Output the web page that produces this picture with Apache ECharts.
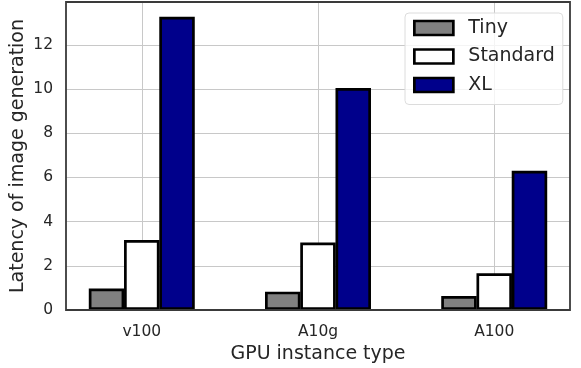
<!DOCTYPE html>
<html>
<head>
<meta charset="utf-8">
<script src="https://cdn.jsdelivr.net/npm/echarts@6/dist/echarts.min.js"></script>
<style>html,body{margin:0;padding:0;background:#fff}#c{width:581px;height:368px}</style>
</head>
<body>
<div id="c"></div>
<script>
const categories = ['v100', 'A10g', 'A100'];
const seriesNames = ['Tiny', 'Standard', 'XL'];
const tinyValues = [0.97, 0.83, 0.63];
const standardValues = [3.17, 3.05, 1.66];
const xlValues = [13.27, 10.05, 6.3];
const yTicks = [0, 2, 4, 6, 8, 10, 12];

const colors = ['#808080', '#ffffff', '#00008b'];
const offsets = [-0.2, 0, 0.2];
const allValues = [tinyValues, standardValues, xlValues];
const font = 'DejaVu Sans';

const series = seriesNames.map((name, s) => ({
  name: name,
  type: 'bar',
  barWidth: 35.5,
  barGap: '-100%',
  data: allValues[s].map((v, i) => [i + offsets[s], v]),
  itemStyle: { color: colors[s], borderColor: '#000', borderWidth: 2.7 },
  emphasis: { disabled: true },
  z: 3
}));

const chart = echarts.init(document.getElementById('c'), null, { renderer: 'canvas' });
chart.setOption({
  animation: false,
  grid: { left: 66, right: 11, top: 2, bottom: 58, outerBoundsMode: 'none', containLabel: false,
          show: true, borderColor: '#3a3a3a', borderWidth: 1.8, backgroundColor: 'transparent', z: 10 },
  legend: {
    orient: 'vertical',
    left: 405, top: 13,
    padding: [5.5, 8, 10, 8],
    itemWidth: 39, itemHeight: 14, itemGap: 9.5,
    icon: 'rect',
    borderColor: '#dcdcdc', borderWidth: 1, borderRadius: 4,
    backgroundColor: 'rgba(255,255,255,0.8)',
    textStyle: { fontFamily: font, fontSize: 19, color: '#262626', padding: [0, 0, 0, 10] },
    itemStyle: { borderColor: '#000', borderWidth: 2.7 },
    data: seriesNames
  },
  xAxis: {
    type: 'value',
    min: -0.43, max: 2.43,
    name: 'GPU instance type',
    nameLocation: 'middle',
    nameGap: 35,
    nameMoveOverlap: false,
    nameTextStyle: { fontFamily: font, fontSize: 19, color: '#262626' },
    axisLine: { show: false },
    axisTick: { show: false, customValues: [0, 1, 2] },
    axisLabel: {
      customValues: [0, 1, 2],
      formatter: v => categories[Math.round(v)] || '',
      fontFamily: font, fontSize: 15.5, color: '#262626', margin: 14
    },
    splitLine: { show: true, lineStyle: { color: '#c8c8c8', width: 1 } }
  },
  yAxis: {
    type: 'value',
    min: 0, max: 13.94,
    name: 'Latency of image generation',
    nameLocation: 'middle',
    nameGap: 38,
    nameMoveOverlap: false,
    nameTextStyle: { fontFamily: font, fontSize: 19, color: '#262626' },
    axisLine: { show: false },
    axisTick: { show: false, customValues: yTicks },
    axisLabel: { customValues: yTicks, fontFamily: font, fontSize: 15.5, color: '#262626', margin: 13, padding: [4, 0, 0, 0] },
    splitLine: { show: true, lineStyle: { color: '#c8c8c8', width: 1 } }
  },
  series: series
});
</script>
</body>
</html>
